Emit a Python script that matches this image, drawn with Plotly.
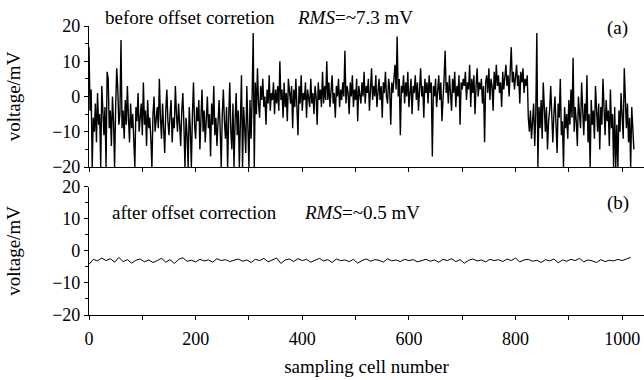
import plotly.graph_objects as go
from plotly.subplots import make_subplots

# sampled every 2 cells (before offset correction)
x_before = list(range(0, 1024, 2))
v_before = [
    14, -4, 2, -20, -6, -10, -2, -13, 1, -8, -5, -20, 3, -7, -11, -3,
    -20, 7, 5, -9, -4, -14, 0, -7, -20, -3, 8, 2, -8, -5, 16, -9,
    -4, -12, -1, -8, 3, -6, -13, -2, -9, -5, -15, -20, -3, -7, 1, -10,
    -6, -2, -11, 4, -8, -4, -14, -1, -9, -6, -12, -20, -5, 0, -10, -7,
    -3, -9, 5, -6, -12, -2, -8, -16, -4, 2, -7, -11, -5, -1, -13, -6,
    -9, 3, -5, -10, -2, -7, -14, -4, 1, -8, -20, -6, -11, -20, -3, -9,
    -20, -5, 4, -8, -12, -3, -7, -1, -15, -6, 2, -10, -4, -13, -7, 0,
    -9, -5, -17, -2, -8, 3, -11, -6, -14, -4, -1, -9, -20, -5, 2, -7,
    -12, -3, -20, -6, 4, -10, -15, -2, -20, -7, 1, -11, -4, -20, -8, 6,
    -20, -3, -9, -16, 3, -6, -20, -1, -12, 0, 18, -20, 4, -5, 8, -2,
    -6, 3, -1, 5, -3, 0, -8, 2, -2, 6, -4, 1, -1, 4, -5, 2,
    -2, 3, -4, 10, -1, 2, -6, 4, -3, 1, -7, 5, 0, -2, 3, -9,
    2, -3, 5, -1, -11, 3, -2, 6, -4, 1, -1, 4, -6, 2, 0, -3,
    5, -2, 1, -5, 3, 0, -8, 4, -1, 2, -3, 7, -2, 3, -1, 10,
    -1, 4, -3, 2, 6, -2, 1, -6, 3, 0, 5, -3, 2, -1, 4, 0,
    13, -2, 3, 1, -5, 4, 0, 6, -3, 2, -1, 5, -7, 3, 1, -2,
    4, 0, 7, -2, 3, 1, 5, -4, 2, 8, -1, 3, 0, 6, -3, 2,
    5, -1, 3, -6, 4, 1, 7, 0, -2, 5, 2, -8, 4, 1, 6, 9,
    2, 17, 0, 5, -11, 3, 1, 6, -2, 4, 0, 7, -3, 2, 5, -5,
    3, 1, 6, -1, 4, -4, 2, 8, 0, 3, -6, 5, 1, 4, -2, 6,
    1, 4, -17, 3, 0, 5, -3, 2, 6, -1, 4, -7, 2, 5, 13, 1,
    4, -2, 6, 2, -4, 5, 1, 7, -3, 3, 0, 6, -8, 4, 2, 5,
    3, 7, -1, 4, 2, 9, -3, 5, 1, 6, -5, 3, 8, 0, 4, 2,
    5, -2, 3, -13, 4, 6, 1, 8, -1, 5, 3, -4, 7, 2, 9, 3,
    6, 1, 4, -3, 7, 2, 5, 9, 3, 6, 0, 8, 14, 4, 7, 2,
    5, 9, 3, 6, -2, 7, 4, 8, 1, 5, 3, 6, -6, -10, -4, -12,
    -7, -2, -14, -5, 18, -20, -3, -9, -1, -12, 4, -6, -10, -3, -15, -7,
    -4, 3, -9, -13, -5, 0, -8, -16, -2, -6, 5, -11, -7, -20, -3, -9,
    -5, -12, -1, -8, 2, -6, 11, -10, -3, -7, -14, 0, -5, -9, 4, -4,
    -11, -2, -7, 6, -13, -5, -20, -1, -8, -4, -12, 3, -6, -10, -2, -15,
    -3, -8, 5, -6, -11, -1, -7, -4, -14, 2, -9, -5, -20, -3, -20, -8,
    -20, -4, -10, 1, -7, -12, 8, -5, -9, -2, -13, -6, -20, -3, -8, -15,
]

# sampled every 8 cells (after offset correction)
x_after = list(range(0, 1024, 8))
v_after = [
    -4.2, -2.6, -3.1, -2.2, -3.0, -2.4, -3.5, -2.0, -3.3, -2.7, -3.8, -2.9, -2.5, -3.4, -2.8, -3.6,
    -3.0, -2.3, -3.5, -2.7, -3.9, -2.6, -2.1, -3.2, -2.9, -3.4, -2.6, -3.1, -2.8, -3.5, -2.4, -3.0,
    -2.7, -3.3, -2.9, -2.5, -3.2, -2.8, -3.6, -2.6, -3.0, -2.3, -3.4, -2.7, -2.2, -3.9, -2.8, -2.5,
    -3.3, -2.4, -3.0, -2.6, -3.5, -2.9, -2.3, -3.1, -2.7, -3.6, -2.5, -3.0, -2.8, -3.3, -2.6, -3.8,
    -3.0, -2.5, -3.2, -2.7, -2.9, -3.5, -2.4, -3.1, -2.8, -3.3, -2.6, -3.0, -2.7, -3.4, -2.9, -2.6,
    -3.2, -2.8, -3.5, -2.6, -3.0, -2.4, -3.3, -2.7, -3.8, -2.9, -2.5, -3.1, -2.8, -3.4, -2.6, -3.0,
    -2.7, -3.3, -2.5, -3.0, -2.2, -3.4, -2.8, -2.6, -3.2, -2.9, -3.6, -2.7, -3.1, -2.5, -3.7, -2.8,
    -3.2, -2.6, -3.0, -2.3, -3.4, -2.8, -3.1, -3.6, -2.7, -3.3, -2.9, -3.1, -2.6, -3.0, -2.5, -2.0,
]

y_ticks = [-20, -10, 0, 10, 20]
x_ticks = [0, 200, 400, 600, 800, 1000]

FONT = "Liberation Serif"

fig = make_subplots(rows=2, cols=1, shared_xaxes=False, vertical_spacing=0.0)
fig.add_trace(go.Scatter(x=x_before, y=v_before, mode="lines",
                         line=dict(color="black", width=1.4)), row=1, col=1)
fig.add_trace(go.Scatter(x=x_after, y=v_after, mode="lines",
                         line=dict(color="black", width=1.0)), row=2, col=1)

axis_common = dict(showline=True, linecolor="black", linewidth=1.2, showgrid=False,
                   zeroline=False, ticks="outside", ticklen=4, tickcolor="black",
                   tickfont=dict(family=FONT, size=18, color="black"))

fig.update_xaxes(range=[0, 1041], tickvals=x_ticks, ticklabelstandoff=3, **axis_common,
                 minor=dict(dtick=100, tick0=0, ticks="outside", ticklen=4, tickcolor="black"))
fig.update_xaxes(showticklabels=False, row=1, col=1)
fig.update_xaxes(title=dict(text="sampling cell number", font=dict(family=FONT, size=19, color="black"),
                            standoff=11), row=2, col=1)
fig.update_yaxes(range=[-20, 20], tickvals=y_ticks, **axis_common,
                 minor=dict(dtick=5, tick0=0, ticks="outside", ticklen=3, tickcolor="black"),
                 title=dict(text="voltage/mV", font=dict(family=FONT, size=19, color="black"), standoff=26))

fig.update_layout(
    xaxis=dict(domain=[0, 1], anchor="y"),
    yaxis=dict(domain=[0.512, 1.0]),
    xaxis2=dict(domain=[0, 1], anchor="y2"),
    yaxis2=dict(domain=[0.0, 0.443]),
)

ann_font = dict(family=FONT, size=19, color="black")
annotations = [
    dict(text="before offset corretion", x=0.025, y=1.028),
    dict(text="<i>RMS</i>=~7.3 mV", x=0.372, y=1.028),
    dict(text="(a)", x=0.930, y=0.993),
    dict(text="after offset correction", x=0.038, y=0.353),
    dict(text="<i>RMS</i>=~0.5 mV", x=0.383, y=0.353),
    dict(text="(b)", x=0.930, y=0.388),
]
for a in annotations:
    fig.add_annotation(xref="paper", yref="paper", xanchor="left", yanchor="middle",
                       showarrow=False, font=ann_font, **a)

fig.update_layout(width=644, height=380, margin=dict(l=89, r=0, t=26, b=65),
                  plot_bgcolor="white", paper_bgcolor="white", showlegend=False)

fig.write_html("out.html")
